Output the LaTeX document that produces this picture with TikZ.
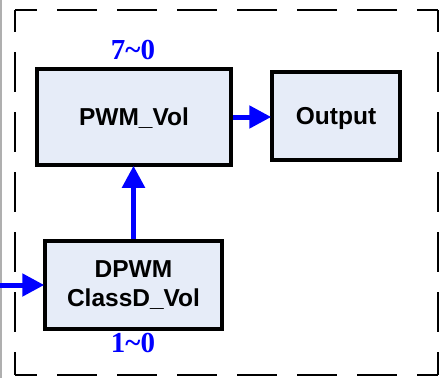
\documentclass[tikz,border=0pt]{standalone}
\usepackage{fontspec}
\setmainfont{Liberation Sans}
\newfontfamily\labelfont{Liberation Serif}
\usetikzlibrary{arrows.meta}
\definecolor{boxfill}{RGB}{230,236,248}
\definecolor{sigblue}{RGB}{0,0,255}
\definecolor{edgegrey}{RGB}{175,175,175}
\tikzset{
  block/.style={draw=black, fill=boxfill, line width=3.5pt, inner sep=0pt,
    font=\fontsize{24.5}{30}\selectfont\bfseries, align=center},
  sig/.style={draw=sigblue, line width=5pt,
    -{Triangle[length=22pt,width=22pt]}, shorten >=-1pt},
  bits/.style={text=sigblue, font=\labelfont\fontsize{29}{30}\selectfont\bfseries, inner sep=0pt},
  frame/.style={draw=black, line width=2.6pt, dash pattern=on 40pt off 20pt}
}
\begin{document}
\begin{tikzpicture}[x=1pt,y=-1pt]
  \useasboundingbox (0,0) rectangle (443,378);
  % thin grey rule at the left edge
  \draw[edgegrey, line width=1.5pt] (1,0) -- (1,378);
  % dashed enclosure
  \draw[frame, dash phase=18pt] (15,10) -- (438,10);
  \draw[frame, dash phase=18pt] (438,10) -- (438,375);
  \draw[frame, dash phase=18pt] (15,10) -- (15,375);
  \draw[frame, dash phase=18pt] (15,375) -- (438,375);
  % blocks
  \node[block, text depth=0pt, minimum width=194pt, minimum height=96pt] (pwm) at (134,117) {PWM\_Vol};
  \node[block, text depth=0pt, minimum width=128pt, minimum height=88pt] (out) at (336,116) {Output};
  \node[block, minimum width=177pt, minimum height=88pt] (dpwm) at (133.5,285) {DPWM\\[-1pt]ClassD\_Vol};
  % bit-range labels
  \node[bits] (hi) at (133,50) {7\char`~0};
  \node[bits] (lo) at (133,343) {1\char`~0};
  % signal flow
  \coordinate (in) at (0,285);
  \draw[sig] (in) -- (dpwm.west);
  \draw[sig] (dpwm.north) -- (dpwm.north |- pwm.south);
  \draw[sig] (pwm.east) -- (pwm.east -| out.west);
\end{tikzpicture}
\end{document}
